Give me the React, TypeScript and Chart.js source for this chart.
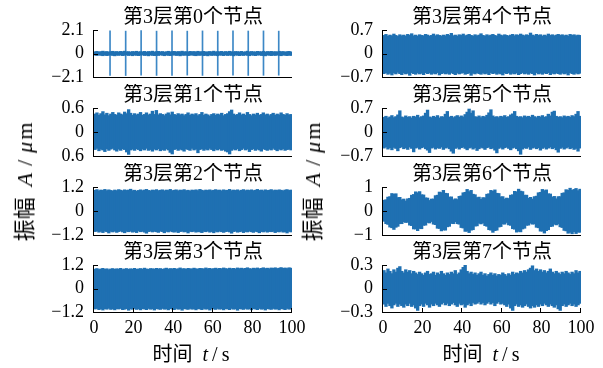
import React, { useEffect, useRef } from "react";
import { Chart, registerables } from "chart.js";

Chart.register(...registerables);

const BLUE = "#1f70b2";
const SPIKE_BLUE = "#3d88c6";
const FONT = '"Liberation Serif", "Noto Sans CJK SC", serif';

// ---------- data (envelope of each signal per 1 s bin) ----------
const nodeTitles = [
  "第3层第0个节点", "第3层第1个节点", "第3层第2个节点", "第3层第3个节点",
  "第3层第4个节点", "第3层第5个节点", "第3层第6个节点", "第3层第7个节点",
];
const xTickValues = [0, 20, 40, 60, 80, 100];
const xTickLabels = ["0", "20", "40", "60", "80", "100"];

const yTicks0 = [-2.1, 0, 2.1]; const yLabels0 = ["−2.1", "0", "2.1"];
const yTicks1 = [-0.6, 0, 0.6]; const yLabels1 = ["0.6", "0", "0.6"];
const yTicks2 = [-1.2, 0, 1.2]; const yLabels2 = ["−1.2", "0", "1.2"];
const yTicks3 = [-1.2, 0, 1.2]; const yLabels3 = ["−1.2", "0", "1.2"];
const yTicks4 = [-0.7, 0, 0.7]; const yLabels4 = ["−0.7", "0", "0.7"];
const yTicks5 = [-0.7, 0, 0.7]; const yLabels5 = ["−0.7", "0", "0.7"];
const yTicks6 = [-1, 0, 1]; const yLabels6 = ["−1", "0", "1"];
const yTicks7 = [-0.3, 0, 0.3]; const yLabels7 = ["−0.3", "0", "0.3"];

// node 0: small noise plus periodic impulses
const n0Hi = [0.16,0.19,0.14,0.17,0.21,0.15,0.18,0.13,0.17,0.20, 0.15,0.18,0.14,0.19,0.16,0.21,0.15,0.17,0.13,0.18, 0.16,0.20,0.14,0.17,0.15,0.19,0.13,0.18,0.16,0.21, 0.14,0.17,0.19,0.15,0.18,0.13,0.16,0.20,0.15,0.17, 0.19,0.14,0.18,0.16,0.21,0.15,0.17,0.13,0.19,0.16, 0.18,0.14,0.20,0.15,0.17,0.19,0.13,0.16,0.18,0.15, 0.21,0.14,0.17,0.16,0.19,0.13,0.18,0.15,0.20,0.16, 0.14,0.18,0.17,0.15,0.19,0.13,0.16,0.21,0.15,0.18, 0.16,0.14,0.19,0.17,0.15,0.20,0.13,0.18,0.16,0.19, 0.15,0.17,0.14,0.20,0.16,0.18,0.13,0.17,0.19,0.15];
const n0Lo = [-0.15,-0.18,-0.13,-0.17,-0.20,-0.14,-0.19,-0.16,-0.13,-0.18, -0.21,-0.15,-0.17,-0.14,-0.19,-0.16,-0.13,-0.18,-0.15,-0.20, -0.14,-0.17,-0.19,-0.15,-0.13,-0.18,-0.16,-0.21,-0.14,-0.17, -0.19,-0.15,-0.18,-0.13,-0.16,-0.20,-0.14,-0.17,-0.19,-0.15, -0.13,-0.18,-0.16,-0.21,-0.15,-0.17,-0.14,-0.19,-0.16,-0.13, -0.18,-0.20,-0.15,-0.17,-0.14,-0.19,-0.16,-0.21,-0.13,-0.18, -0.15,-0.17,-0.20,-0.14,-0.16,-0.19,-0.13,-0.18,-0.15,-0.17, -0.21,-0.14,-0.16,-0.19,-0.15,-0.18,-0.13,-0.17,-0.20,-0.14, -0.16,-0.19,-0.15,-0.13,-0.18,-0.17,-0.21,-0.14,-0.16,-0.19, -0.15,-0.18,-0.13,-0.17,-0.20,-0.14,-0.16,-0.19,-0.15,-0.18];
const n0SpikeT = [8.1, 16.0, 23.8, 31.6, 39.4, 47.1, 54.8, 62.5, 70.2, 77.9, 85.6, 93.3];
const n0SpikeHi = [2.02, 2.0, 2.04, 2.0, 2.03, 2.0, 2.02, 2.0, 2.03, 2.01, 2.02, 2.0];
const n0SpikeLo = [-1.95, -1.97, -1.94, -1.96, -1.95, -1.93, -1.96, -1.95, -1.94, -1.96, -1.95, -1.94];

const n1Hi = [0.45,0.48,0.42,0.46,0.51,0.43,0.47,0.41,0.45,0.49, 0.44,0.42,0.48,0.45,0.43,0.50,0.46,0.56,0.47,0.42, 0.46,0.43,0.45,0.49,0.42,0.44,0.48,0.43,0.45,0.52, 0.44,0.54,0.43,0.46,0.44,0.41,0.45,0.48,0.43,0.50, 0.44,0.42,0.46,0.43,0.45,0.41,0.44,0.48,0.42,0.45, 0.43,0.46,0.41,0.44,0.49,0.42,0.45,0.43,0.40,0.44, 0.46,0.42,0.45,0.43,0.47,0.41,0.44,0.46,0.51,0.55, 0.45,0.42,0.44,0.48,0.43,0.45,0.42,0.49,0.44,0.41, 0.45,0.43,0.47,0.42,0.44,0.48,0.43,0.45,0.41,0.44, 0.47,0.42,0.45,0.43,0.48,0.44,0.42,0.46,0.43,0.44];
const n1Lo = [-0.44,-0.41,-0.47,-0.43,-0.45,-0.49,-0.42,-0.46,-0.43,-0.41, -0.45,-0.48,-0.43,-0.46,-0.42,-0.44,-0.50,-0.56,-0.45,-0.43, -0.46,-0.42,-0.44,-0.47,-0.43,-0.45,-0.41,-0.46,-0.44,-0.48, -0.43,-0.45,-0.42,-0.47,-0.44,-0.46,-0.42,-0.45,-0.51,-0.55, -0.44,-0.42,-0.46,-0.43,-0.45,-0.48,-0.42,-0.44,-0.46,-0.41, -0.45,-0.43,-0.52,-0.44,-0.42,-0.46,-0.43,-0.45,-0.41,-0.44, -0.47,-0.43,-0.45,-0.42,-0.46,-0.44,-0.48,-0.50,-0.55,-0.46, -0.43,-0.45,-0.42,-0.47,-0.44,-0.41,-0.45,-0.43,-0.49,-0.44, -0.42,-0.46,-0.43,-0.45,-0.48,-0.42,-0.44,-0.46,-0.43,-0.45, -0.41,-0.44,-0.47,-0.43,-0.45,-0.42,-0.46,-0.44,-0.43,-0.45];

const n2Hi = [1.04,1.07,1.01,1.05,1.03,1.08,1.02,1.06,1.03,1.00, 1.05,1.02,1.07,1.04,1.01,1.06,1.03,1.05,1.09,1.02, 1.04,0.99,1.03,1.06,1.02,1.05,1.08,1.03,1.01,1.05, 1.03,1.07,1.02,1.04,1.06,1.01,1.05,1.03,1.08,1.02, 1.04,1.06,1.01,1.05,1.03,1.07,1.02,1.04,1.00,1.05, 1.03,1.06,1.02,1.08,1.04,1.01,1.05,1.03,1.06,1.02, 1.04,1.07,1.03,1.05,1.01,1.06,1.03,1.04,1.08,1.02, 1.05,1.03,1.06,1.01,1.04,1.07,1.02,1.05,1.03,1.06, 1.02,1.04,1.08,1.03,1.05,1.01,1.06,1.03,1.04,1.07, 1.02,1.05,1.03,1.06,1.04,1.01,1.05,1.07,1.03,1.05];
const n2Lo = [-1.03,-1.00,-1.06,-1.02,-1.08,-1.01,-1.04,-1.10,-1.02,-1.05, -1.01,-1.07,-1.03,-1.00,-1.05,-1.09,-1.02,-1.04,-1.01,-1.06, -1.03,-1.08,-1.00,-1.04,-1.02,-1.06,-1.11,-1.03,-1.01,-1.05, -1.02,-1.04,-1.07,-1.01,-1.03,-1.09,-1.02,-1.05,-1.00,-1.04, -1.06,-1.02,-1.08,-1.03,-1.01,-1.05,-1.03,-1.10,-1.02,-1.04, -1.01,-1.06,-1.03,-1.05,-1.08,-1.02,-1.04,-1.00,-1.06,-1.03, -1.09,-1.02,-1.05,-1.01,-1.04,-1.07,-1.03,-1.02,-1.05,-1.11, -1.03,-1.01,-1.06,-1.04,-1.02,-1.08,-1.03,-1.05,-1.01,-1.04, -1.07,-1.02,-1.04,-1.09,-1.03,-1.05,-1.01,-1.06,-1.03,-1.04, -1.02,-1.08,-1.03,-1.05,-1.01,-1.06,-1.04,-1.10,-1.02,-1.05];

const n3Hi = [0.99,1.02,0.97,1.00,1.03,0.98,1.01,0.96,1.00,1.02, 0.98,1.01,0.99,1.03,0.97,1.00,1.02,0.98,1.01,0.99, 1.03,0.98,1.00,1.02,0.99,1.04,1.00,0.98,1.02,1.01, 0.99,1.03,1.00,1.02,0.98,1.01,1.04,0.99,1.02,1.00, 1.03,0.99,1.01,1.05,1.00,1.02,0.98,1.03,1.01,1.00, 1.04,1.01,0.99,1.03,1.02,1.00,1.05,1.01,1.03,0.99, 1.02,1.04,1.00,1.03,1.01,1.05,1.02,1.00,1.04,1.01, 1.03,1.00,1.05,1.02,1.04,1.01,1.03,1.06,1.02,1.00, 1.04,1.02,1.05,1.01,1.03,1.06,1.02,1.04,1.01,1.05, 1.03,1.06,1.02,1.04,1.07,1.03,1.05,1.02,1.06,1.04];
const n3Lo = [-1.05,-1.02,-1.08,-1.04,-1.10,-1.03,-1.06,-1.01,-1.07,-1.04, -1.09,-1.03,-1.05,-1.02,-1.08,-1.06,-1.03,-1.11,-1.04,-1.06, -1.02,-1.07,-1.04,-1.09,-1.03,-1.05,-1.08,-1.02,-1.06,-1.04, -1.10,-1.03,-1.05,-1.07,-1.02,-1.06,-1.04,-1.09,-1.03,-1.05, -1.08,-1.02,-1.06,-1.04,-1.11,-1.03,-1.05,-1.07,-1.02,-1.06, -1.04,-1.09,-1.03,-1.05,-1.08,-1.02,-1.06,-1.04,-1.10,-1.03, -1.05,-1.07,-1.02,-1.06,-1.04,-1.09,-1.03,-1.05,-1.08,-1.02, -1.06,-1.04,-1.11,-1.03,-1.05,-1.07,-1.02,-1.06,-1.04,-1.09, -1.03,-1.05,-1.08,-1.02,-1.06,-1.04,-1.10,-1.03,-1.05,-1.07, -1.02,-1.06,-1.04,-1.09,-1.03,-1.05,-1.08,-1.02,-1.06,-1.04];

const n4Hi = [0.54,0.57,0.52,0.55,0.53,0.58,0.54,0.51,0.56,0.53, 0.55,0.52,0.57,0.54,0.59,0.53,0.55,0.52,0.56,0.54, 0.53,0.57,0.55,0.52,0.54,0.58,0.53,0.56,0.54,0.52, 0.55,0.53,0.57,0.54,0.60,0.53,0.55,0.52,0.56,0.54, 0.58,0.53,0.55,0.57,0.54,0.52,0.56,0.53,0.55,0.59, 0.54,0.52,0.56,0.53,0.55,0.57,0.54,0.52,0.58,0.55, 0.53,0.56,0.54,0.52,0.55,0.57,0.53,0.56,0.54,0.58, 0.55,0.53,0.56,0.54,0.61,0.55,0.53,0.57,0.54,0.56, 0.52,0.55,0.53,0.58,0.54,0.56,0.53,0.55,0.57,0.54, 0.56,0.53,0.55,0.52,0.57,0.54,0.56,0.53,0.55,0.54];
const n4Lo = [-0.60,-0.57,-0.62,-0.59,-0.64,-0.58,-0.61,-0.56,-0.60,-0.63, -0.58,-0.61,-0.59,-0.65,-0.57,-0.60,-0.62,-0.58,-0.61,-0.59, -0.63,-0.57,-0.60,-0.58,-0.62,-0.59,-0.61,-0.57,-0.64,-0.60, -0.58,-0.61,-0.59,-0.62,-0.57,-0.60,-0.63,-0.58,-0.61,-0.59, -0.57,-0.62,-0.60,-0.58,-0.65,-0.59,-0.61,-0.57,-0.60,-0.62, -0.58,-0.61,-0.59,-0.63,-0.57,-0.60,-0.58,-0.62,-0.59,-0.61, -0.64,-0.58,-0.60,-0.57,-0.62,-0.59,-0.61,-0.58,-0.63,-0.60, -0.57,-0.61,-0.59,-0.62,-0.58,-0.60,-0.64,-0.57,-0.61,-0.59, -0.62,-0.58,-0.60,-0.57,-0.63,-0.59,-0.61,-0.58,-0.60,-0.62, -0.58,-0.61,-0.59,-0.64,-0.57,-0.60,-0.62,-0.58,-0.61,-0.59];

const n5Hi = [0.43,0.46,0.41,0.44,0.48,0.42,0.45,0.50,0.62,0.44, 0.42,0.47,0.43,0.45,0.41,0.46,0.44,0.49,0.42,0.45, 0.47,0.55,0.64,0.44,0.42,0.46,0.43,0.48,0.41,0.45, 0.44,0.52,0.60,0.43,0.46,0.42,0.45,0.48,0.43,0.47, 0.44,0.51,0.58,0.67,0.55,0.62,0.45,0.43,0.47,0.42, 0.46,0.44,0.49,0.56,0.65,0.47,0.43,0.45,0.42,0.46, 0.44,0.48,0.43,0.45,0.50,0.53,0.60,0.46,0.43,0.45, 0.42,0.47,0.44,0.46,0.43,0.49,0.45,0.42,0.46,0.44, 0.48,0.43,0.45,0.52,0.47,0.58,0.61,0.46,0.43,0.45, 0.42,0.47,0.44,0.46,0.43,0.48,0.45,0.52,0.60,0.46];
const n5Lo = [-0.47,-0.44,-0.50,-0.46,-0.52,-0.45,-0.48,-0.55,-0.46,-0.43, -0.49,-0.46,-0.51,-0.44,-0.48,-0.58,-0.47,-0.45,-0.50,-0.46, -0.44,-0.49,-0.53,-0.60,-0.47,-0.45,-0.50,-0.46,-0.48,-0.44, -0.51,-0.47,-0.45,-0.49,-0.56,-0.62,-0.48,-0.45,-0.50,-0.46, -0.44,-0.48,-0.52,-0.47,-0.45,-0.50,-0.46,-0.54,-0.49,-0.45, -0.47,-0.51,-0.46,-0.44,-0.49,-0.47,-0.53,-0.61,-0.48,-0.45, -0.50,-0.46,-0.44,-0.48,-0.52,-0.47,-0.45,-0.49,-0.55,-0.65, -0.50,-0.46,-0.48,-0.44,-0.51,-0.47,-0.45,-0.49,-0.46,-0.53, -0.48,-0.45,-0.50,-0.47,-0.44,-0.49,-0.46,-0.52,-0.59,-0.48, -0.45,-0.50,-0.47,-0.44,-0.49,-0.46,-0.51,-0.48,-0.56,-0.47];

const n6Hi = [0.45,0.47,0.58,0.60,0.73, 0.70,0.72,0.56,0.57, 0.47,0.50,0.42,0.51, 0.53,0.66,0.69,0.80,0.76,0.81, 0.68,0.67,0.55,0.54,0.44,0.50, 0.50,0.64,0.66,0.79,0.77,0.86,0.74, 0.73,0.58,0.59,0.47,0.51,0.48, 0.61,0.63,0.76,0.78,0.90,0.81,0.86, 0.70,0.68,0.56,0.58,0.49,0.56, 0.55,0.70,0.72,0.86,0.82,0.88,0.74, 0.73,0.59,0.60,0.50,0.54,0.52, 0.66,0.68,0.82,0.80,0.91,0.83, 0.81,0.66,0.66,0.53,0.57,0.50,0.60, 0.62,0.76,0.78,0.90,0.85,0.88, 0.72,0.71,0.58,0.61,0.51,0.60,0.60, 0.74,0.76,0.89,0.86,0.95,0.86,0.90,0.94,0.85,0.91];
const n6Lo = [-0.43,-0.53,-0.56,-0.67,-0.70, -0.77,-0.68,-0.64,-0.53, -0.53,-0.45,-0.48,-0.47, -0.59,-0.61,-0.75,-0.75,-0.82,-0.73, -0.74,-0.60,-0.59,-0.48,-0.50,-0.44, -0.55,-0.57,-0.72,-0.73,-0.83,-0.79,-0.80, -0.66,-0.64,-0.52,-0.53,-0.45,-0.53, -0.55,-0.69,-0.71,-0.85,-0.84,-0.90,-0.80, -0.78,-0.63,-0.62,-0.51,-0.54,-0.50, -0.61,-0.64,-0.78,-0.80,-0.89,-0.82,-0.80, -0.67,-0.65,-0.54,-0.55,-0.48,-0.58, -0.60,-0.74,-0.76,-0.88,-0.85,-0.87, -0.75,-0.72,-0.60,-0.59,-0.51,-0.55,-0.54, -0.68,-0.70,-0.84,-0.84,-0.92,-0.82, -0.78,-0.65,-0.64,-0.55,-0.58,-0.54,-0.66, -0.69,-0.81,-0.83,-0.93,-0.89,-0.95,-0.86,-0.94,-0.88,-0.89];

const n7Hi = [0.23,0.20,0.25,0.22,0.19,0.24,0.21,0.26,0.28,0.22, 0.20,0.24,0.21,0.23,0.19,0.22,0.20,0.18,0.21,0.19, 0.17,0.20,0.22,0.18,0.19,0.21,0.17,0.20,0.18,0.22, 0.19,0.17,0.20,0.18,0.21,0.19,0.23,0.18,0.20,0.24, 0.27,0.30,0.22,0.19,0.21,0.18,0.20,0.17,0.19,0.21, 0.17,0.19,0.16,0.18,0.20,0.17,0.19,0.16,0.18,0.17, 0.20,0.18,0.16,0.19,0.17,0.21,0.18,0.20,0.19,0.22, 0.20,0.23,0.21,0.24,0.26,0.29,0.23,0.25,0.22,0.24, 0.21,0.23,0.20,0.22,0.25,0.21,0.19,0.22,0.20,0.18, 0.21,0.19,0.22,0.20,0.18,0.21,0.19,0.23,0.20,0.22];
const n7Lo = [-0.20,-0.23,-0.19,-0.22,-0.25,-0.21,-0.19,-0.23,-0.20,-0.22, -0.24,-0.20,-0.22,-0.19,-0.23,-0.21,-0.25,-0.28,-0.22,-0.20, -0.23,-0.19,-0.21,-0.24,-0.20,-0.22,-0.19,-0.21,-0.23,-0.20, -0.18,-0.21,-0.19,-0.22,-0.20,-0.18,-0.21,-0.23,-0.19,-0.21, -0.20,-0.24,-0.21,-0.19,-0.22,-0.18,-0.20,-0.19,-0.17,-0.20, -0.18,-0.21,-0.19,-0.17,-0.20,-0.18,-0.22,-0.19,-0.17,-0.20, -0.19,-0.21,-0.23,-0.20,-0.25,-0.28,-0.22,-0.20,-0.23,-0.21, -0.24,-0.22,-0.20,-0.23,-0.25,-0.22,-0.24,-0.21,-0.23,-0.20, -0.22,-0.19,-0.21,-0.23,-0.20,-0.22,-0.24,-0.21,-0.26,-0.28, -0.22,-0.20,-0.23,-0.21,-0.19,-0.22,-0.20,-0.23,-0.21,-0.19];

// ---------- layout ----------
const COL_LEFT = [94, 383];
const PLOT_W = 198;
const ROW_TOP = [30, 108, 187, 265];
const ROW_H = [47, 48, 48, 47];
const Y_AXIS_W = 60;
const RIGHT_PAD = 16;
const TITLE_H = 24;
const BOTTOM_SPACE = 12;
const XAXIS_H = 30;

type PanelSpec = {
  title: string; hi: number[]; lo: number[];
  yTicks: number[]; yLabels: string[];
  spikeT?: number[]; spikeHi?: number[]; spikeLo?: number[];
  col: number; row: number;
};

const panels: PanelSpec[] = [
  { title: nodeTitles[0], hi: n0Hi, lo: n0Lo, yTicks: yTicks0, yLabels: yLabels0, spikeT: n0SpikeT, spikeHi: n0SpikeHi, spikeLo: n0SpikeLo, col: 0, row: 0 },
  { title: nodeTitles[1], hi: n1Hi, lo: n1Lo, yTicks: yTicks1, yLabels: yLabels1, col: 0, row: 1 },
  { title: nodeTitles[2], hi: n2Hi, lo: n2Lo, yTicks: yTicks2, yLabels: yLabels2, col: 0, row: 2 },
  { title: nodeTitles[3], hi: n3Hi, lo: n3Lo, yTicks: yTicks3, yLabels: yLabels3, col: 0, row: 3 },
  { title: nodeTitles[4], hi: n4Hi, lo: n4Lo, yTicks: yTicks4, yLabels: yLabels4, col: 1, row: 0 },
  { title: nodeTitles[5], hi: n5Hi, lo: n5Lo, yTicks: yTicks5, yLabels: yLabels5, col: 1, row: 1 },
  { title: nodeTitles[6], hi: n6Hi, lo: n6Lo, yTicks: yTicks6, yLabels: yLabels6, col: 1, row: 2 },
  { title: nodeTitles[7], hi: n7Hi, lo: n7Lo, yTicks: yTicks7, yLabels: yLabels7, col: 1, row: 3 },
];

function Panel({ spec }: { spec: PanelSpec }) {
  const ref = useRef<HTMLCanvasElement | null>(null);
  const isBottom = spec.row === 3;
  const plotH = ROW_H[spec.row];
  const width = Y_AXIS_W + PLOT_W + RIGHT_PAD;
  const height = TITLE_H + plotH + (isBottom ? XAXIS_H : BOTTOM_SPACE);
  const left = COL_LEFT[spec.col] - Y_AXIS_W;
  const top = ROW_TOP[spec.row] - TITLE_H;

  useEffect(() => {
    if (!ref.current) return;
    const datasets: any[] = [
      {
        // bin i covers [i, i+1) seconds
        data: spec.hi.map((h, i) => ({ x: i + 0.5, y: [spec.lo[i], h] })),
        backgroundColor: BLUE,
        borderWidth: 0,
        barThickness: 2.7,
        grouped: false,
      },
    ];
    if (spec.spikeT && spec.spikeHi && spec.spikeLo) {
      datasets.push({
        data: spec.spikeT.map((t, i) => ({ x: t, y: [spec.spikeLo![i], spec.spikeHi![i]] })),
        backgroundColor: SPIKE_BLUE,
        borderWidth: 0,
        barThickness: 1,
        grouped: false,
      });
    }
    const axesPlugin = {
      id: "axesAndInwardTicks",
      afterDraw(chart: any) {
        const { ctx, chartArea } = chart;
        const ys = chart.scales.y;
        const xs = chart.scales.x;
        const L = Math.round(chartArea.left);
        const B = Math.round(chartArea.bottom);
        ctx.save();
        ctx.strokeStyle = "#000";
        ctx.lineWidth = 1;
        ctx.beginPath();
        // axis lines (left and bottom)
        ctx.moveTo(L - 0.5, Math.round(chartArea.top));
        ctx.lineTo(L - 0.5, B + 1);
        ctx.moveTo(L - 1, B + 0.5);
        ctx.lineTo(Math.round(chartArea.right), B + 0.5);
        // inward y ticks
        ys.ticks.forEach((t: any) => {
          const y = Math.min(Math.round(ys.getPixelForValue(t.value)), B) + 0.5;
          ctx.moveTo(L, y);
          ctx.lineTo(L + 4, y);
        });
        if (isBottom) {
          xs.ticks.forEach((t: any) => {
            const x = Math.round(xs.getPixelForValue(t.value)) - 0.5;
            ctx.moveTo(x, B);
            ctx.lineTo(x, B - 4);
          });
        }
        ctx.stroke();
        ctx.restore();
      },
    };
    const yMin = spec.yTicks[0];
    const yMax = spec.yTicks[spec.yTicks.length - 1];
    const chart = new Chart(ref.current, {
      type: "bar",
      data: { datasets },
      options: {
        responsive: false,
        animation: false,
        events: [],
        layout: { padding: { left: 0, right: RIGHT_PAD, top: 0, bottom: 0 } },
        plugins: {
          legend: { display: false },
          tooltip: { enabled: false },
          title: {
            display: true,
            text: spec.title,
            fullSize: false,
            color: "#000",
            font: { family: FONT, size: 20, weight: "normal", lineHeight: 1.2 },
            padding: { top: 0, bottom: 0 },
          },
        },
        scales: {
          x: {
            type: "linear",
            min: 0,
            max: 100,
            offset: false,
            grid: { display: false, offset: false, drawTicks: false },
            border: { display: false },
            ticks: {
              display: isBottom,
              padding: 5,
              color: "#000",
              autoSkip: false,
              maxRotation: 0,
              font: { family: FONT, size: 18 },
              callback: (v: any) => {
                const k = xTickValues.findIndex((t) => Math.abs(t - Number(v)) < 1e-9);
                return k >= 0 ? xTickLabels[k] : "";
              },
            },
            afterBuildTicks: (s: any) => {
              s.ticks = xTickValues.map((v) => ({ value: v }));
            },
            afterFit: (s: any) => {
              s.height = isBottom ? XAXIS_H : BOTTOM_SPACE;
              s.paddingLeft = 0;
              s.paddingRight = 0;
            },
          },
          y: {
            type: "linear",
            min: yMin,
            max: yMax,
            grid: { display: false, drawTicks: false },
            border: { display: false },
            ticks: {
              padding: 10,
              color: "#000",
              autoSkip: false,
              font: { family: FONT, size: 18 },
              callback: (v: any) => {
                const k = spec.yTicks.findIndex((t) => Math.abs(t - Number(v)) < 1e-9);
                return k >= 0 ? spec.yLabels[k] : "";
              },
            },
            afterBuildTicks: (s: any) => {
              s.ticks = spec.yTicks.map((v) => ({ value: v }));
            },
            afterFit: (s: any) => {
              s.width = Y_AXIS_W;
              s.paddingTop = 0;
              s.paddingBottom = 0;
            },
          },
        },
      } as any,
      plugins: [axesPlugin],
    });
    return () => chart.destroy();
  }, []);

  return (
    <canvas
      ref={ref}
      width={width}
      height={height}
      style={{ position: "absolute", left, top, width, height }}
    />
  );
}

const labelFont: React.CSSProperties = {
  fontFamily: FONT,
  color: "#000",
  whiteSpace: "nowrap",
  position: "absolute",
  lineHeight: "26px",
};

function YLabel({ cx, cy }: { cx: number; cy: number }) {
  return (
    <div
      style={{
        ...labelFont,
        fontSize: 22,
        left: cx,
        top: cy,
        transform: "translate(-50%, -50%) rotate(-90deg)",
      }}
    >
      振幅<i style={{ marginLeft: 11 }}>A</i>
      <span style={{ margin: "0 7px" }}>/</span>
      <i>μ</i>
      <span style={{ marginLeft: 2 }}>m</span>
    </div>
  );
}

function XLabel({ cx, cy }: { cx: number; cy: number }) {
  return (
    <div style={{ ...labelFont, fontSize: 20, left: cx, top: cy, transform: "translate(-50%, -50%)" }}>
      时间<i style={{ marginLeft: 10 }}>t</i>
      <span style={{ margin: "0 4px" }}>/</span>s
    </div>
  );
}

export default function App() {
  return (
    <div
      style={{
        position: "fixed",
        left: 0,
        top: 0,
        width: 603,
        height: 368,
        background: "#fff",
        overflow: "hidden",
      }}
    >
      {panels.map((p, i) => (
        <Panel key={i} spec={p} />
      ))}
      <YLabel cx={25} cy={182} />
      <YLabel cx={313} cy={182} />
      <XLabel cx={191} cy={354} />
      <XLabel cx={481} cy={354} />
    </div>
  );
}
